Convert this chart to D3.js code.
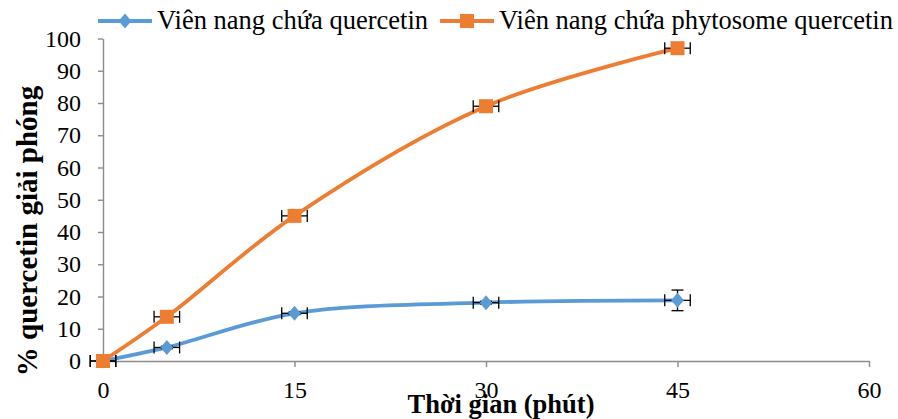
<!DOCTYPE html>
<html>
<head>
<meta charset="utf-8">
<script src="https://cdn.jsdelivr.net/npm/d3@7"></script>
<style>
  body { margin: 0; background: #fff; }
  text { font-family: "Liberation Serif", "Times New Roman", serif; fill: #000; }
  .axis path, .axis line { stroke: #8c8c8c; }
</style>
</head>
<body>
<script>
const times = [0, 5, 15, 30, 45];
const plainQuercetin = [0, 4.2, 14.8, 18.1, 18.8];
const plainErrY = [0.2, 0.4, 0.4, 0.4, 3.2];
const phytosome = [0, 13.7, 45, 79, 97];
const phytoErrY = [0.2, 0.4, 0.4, 0.6, 0.8];
const errX = [1, 1, 1, 1, 1];
const xTicks = [0, 15, 30, 45, 60];
const yTicks = d3.range(0, 101, 10);
const seriesNames = ["Viên nang chứa quercetin", "Viên nang chứa phytosome quercetin"];

const W = 898, H = 419;

const svg = d3.select('body').append('svg')
  .attr('width', W).attr('height', H);

const x = d3.scaleLinear().domain([0, 60]).range([103, 869]);
const y = d3.scaleLinear().domain([0, 100]).range([361, 38.5]);

// axes
const xAxis = svg.append('g').attr('class', 'axis')
  .attr('transform', `translate(0,${y(0)})`)
  .call(d3.axisBottom(x).tickValues(xTicks).tickSize(6).tickSizeOuter(0).tickPadding(14));
xAxis.selectAll('text').attr('font-size', 24);

const yAxis = svg.append('g').attr('class', 'axis')
  .attr('transform', `translate(${x(0)},0)`)
  .call(d3.axisLeft(y).tickValues(yTicks).tickSize(5).tickSizeOuter(0).tickPadding(17));
yAxis.selectAll('text').attr('font-size', 24);
svg.selectAll('.axis path, .axis line').attr('stroke-width', 1.4);

// titles
svg.append('text')
  .attr('x', 501).attr('y', 413)
  .attr('text-anchor', 'middle').attr('font-size', 26.5).attr('font-weight', 'bold')
  .text('Thời gian (phút)');
svg.append('text')
  .attr('transform', 'translate(37,231) rotate(-90)')
  .attr('text-anchor', 'middle').attr('font-size', 29).attr('font-weight', 'bold')
  .text('% quercetin giải phóng');

// diamond slightly wider than d3's default
const diamond = {
  draw(ctx, size) {
    const hh = Math.sqrt(size) / 2, hw = hh * 0.85;
    ctx.moveTo(0, -hh); ctx.lineTo(hw, 0); ctx.lineTo(0, hh); ctx.lineTo(-hw, 0); ctx.closePath();
  }
};

const series = [
  { name: seriesNames[0], vals: plainQuercetin, err: plainErrY, color: '#5B9BD5', sym: diamond, size: 225 },
  { name: seriesNames[1], vals: phytosome, err: phytoErrY, color: '#ED7D31', sym: d3.symbolSquare, size: 196 }
];

const line = d3.line()
  .x(d => x(d[0])).y(d => y(d[1]))
  .curve(d3.curveCatmullRom.alpha(0.5));

series.forEach(s => {
  const pts = times.map((t, i) => [t, s.vals[i], s.err[i], errX[i]]);
  svg.append('path')
    .datum(pts)
    .attr('fill', 'none')
    .attr('stroke', s.color)
    .attr('stroke-width', 3.8)
    .attr('d', line);

  const eb = svg.append('g').attr('stroke', '#000').attr('stroke-width', 1.3);
  pts.forEach(p => {
    const cx = x(p[0]), cy = y(p[1]);
    const x1 = x(p[0] - p[3]), x2 = x(p[0] + p[3]);
    const y1 = y(p[1] - p[2]), y2 = y(p[1] + p[2]);
    eb.append('line').attr('x1', x1).attr('x2', x2).attr('y1', cy).attr('y2', cy);
    eb.append('line').attr('x1', x1).attr('x2', x1).attr('y1', cy - 6).attr('y2', cy + 6);
    eb.append('line').attr('x1', x2).attr('x2', x2).attr('y1', cy - 6).attr('y2', cy + 6);
    eb.append('line').attr('x1', cx).attr('x2', cx).attr('y1', y1).attr('y2', y2);
    eb.append('line').attr('x1', cx - 6).attr('x2', cx + 6).attr('y1', y1).attr('y2', y1);
    eb.append('line').attr('x1', cx - 6).attr('x2', cx + 6).attr('y1', y2).attr('y2', y2);
  });

  svg.append('g').selectAll('path')
    .data(pts).join('path')
    .attr('transform', d => `translate(${x(d[0])},${y(d[1])})`)
    .attr('d', d3.symbol().type(s.sym).size(s.size))
    .attr('fill', s.color);
});

// legend
const legendX = [98, 440];
series.forEach((s, i) => {
  const g = svg.append('g').attr('transform', `translate(${legendX[i]},21)`);
  g.append('line').attr('x1', 0).attr('x2', 54).attr('stroke', s.color).attr('stroke-width', 3.8);
  g.append('path').attr('transform', 'translate(27,0)')
    .attr('d', d3.symbol().type(s.sym).size(s.size)).attr('fill', s.color);
  g.append('text').attr('x', 59).attr('y', 8).attr('font-size', 26.5).text(s.name);
});
</script>
</body>
</html>
